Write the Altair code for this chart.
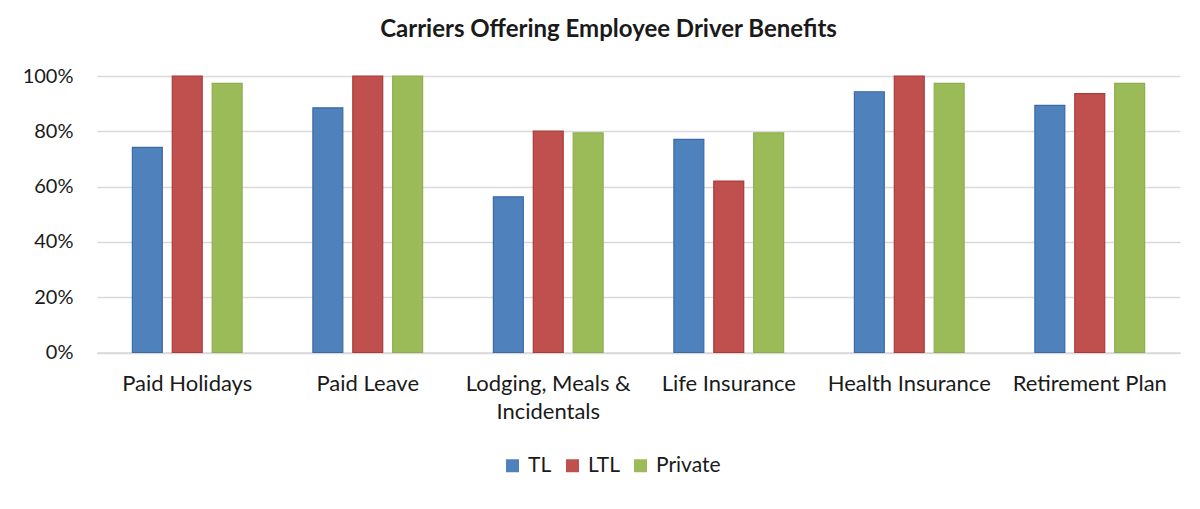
import altair as alt
import pandas as pd

categories = ["Paid Holidays", "Paid Leave", "Lodging, Meals & Incidentals",
              "Life Insurance", "Health Insurance", "Retirement Plan"]
series = ["TL", "LTL", "Private"]
tl = [74.2, 88.5, 56.3, 77.1, 94.3, 89.4]
ltl = [100, 100, 80.1, 62.0, 100, 93.6]
private = [97.3, 100, 79.4, 79.4, 97.3, 97.3]
colors = ["#4F81BD", "#C0504D", "#9BBB59"]
strokes = ["#3A6BA6", "#A83C39", "#8DAE4E"]
y_ticks = [0, 0.2, 0.4, 0.6, 0.8, 1.0]

rows = []
for s, vals in zip(series, [tl, ltl, private]):
    for c, v in zip(categories, vals):
        rows.append({"benefit": c, "carrier": s, "pct": v / 100})
df = pd.DataFrame(rows)

FONT = "Lato"
TXT = "#1a1a1a"

label_expr = ("datum.label == 'Lodging, Meals & Incidentals' ? "
              "['Lodging, Meals &', 'Incidentals'] : datum.label")

chart = alt.Chart(df).mark_bar(strokeWidth=1.2).encode(
    x=alt.X("benefit:N", sort=categories, title=None,
            scale=alt.Scale(paddingInner=0.392, paddingOuter=0.196),
            axis=alt.Axis(labelAngle=0, labelFontSize=22, labelFont=FONT,
                          labelColor=TXT, labelPadding=21, labelExpr=label_expr,
                          labelLineHeight=28, domainColor="#d9d9d9",
                          domainWidth=1.5, ticks=False, labelLimit=300)),
    xOffset=alt.XOffset("carrier:N", sort=series,
                        scale=alt.Scale(paddingInner=0.25, paddingOuter=0)),
    y=alt.Y("pct:Q", scale=alt.Scale(domain=[0, 1]), title=None,
            axis=alt.Axis(format=".0%", values=y_ticks, domain=False, ticks=False,
                          labelPadding=24, minExtent=89, maxExtent=89,
                          gridColor="#d9d9d9", gridWidth=1.5, labelFontSize=20,
                          labelFont=FONT, labelColor=TXT)),
    color=alt.Color("carrier:N", sort=series,
                    scale=alt.Scale(domain=series, range=colors),
                    legend=alt.Legend(title=None, orient="none", direction="horizontal",
                                      legendX=405, legendY=379, symbolType="square",
                                      symbolSize=169, symbolStrokeWidth=0,
                                      labelFontSize=21, labelFont=FONT, labelColor=TXT,
                                      labelOffset=5, columnPadding=10)),
    stroke=alt.Stroke("carrier:N", sort=series,
                      scale=alt.Scale(domain=series, range=strokes), legend=None),
).properties(
    width=1083,
    height=276.5,
    title=alt.TitleParams("Carriers Offering Employee Driver Benefits", fontSize=24,
                          font=FONT, fontWeight="bold", color=TXT, offset=24, dx=-30),
    padding={"left": 0, "top": 10, "right": 5, "bottom": 5},
).configure_view(stroke=None)

chart.save("out.html", embed_options={"renderer": "svg", "actions": False})
